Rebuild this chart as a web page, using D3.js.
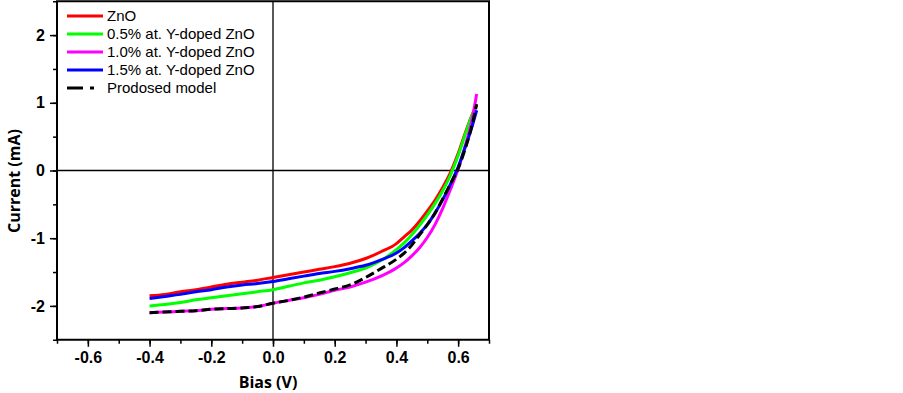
<!DOCTYPE html>
<html>
<head>
<meta charset="utf-8">
<script src="https://cdn.jsdelivr.net/npm/d3@7"></script>
<style>
  body { margin: 0; background: #fff; }
  .tick text { font-family: 'Liberation Sans', Arial, sans-serif; font-weight: bold; font-size: 16px; fill: #000; }
  .axisTitle { font-family: 'Open Sans', sans-serif; font-weight: bold; font-size: 16px; }
  .legend text { font-family: 'Liberation Sans', Arial, sans-serif; font-size: 15px; }
</style>
</head>
<body>
<div id="chart"></div>
<script>
// bias voltage (V)
var bias = [-0.4, -0.35, -0.3, -0.25, -0.2, -0.15, -0.1, -0.05, 0, 0.05, 0.1, 0.15, 0.2, 0.25, 0.3, 0.35, 0.4, 0.425, 0.45, 0.475, 0.5, 0.525, 0.55, 0.575, 0.6, 0.625, 0.645, 0.66];

// current (mA) per sample
var znO = [-1.85, -1.83, -1.79, -1.76, -1.72, -1.68, -1.65, -1.62, -1.58, -1.54, -1.50, -1.46, -1.42, -1.37, -1.30, -1.20, -1.08, -0.98, -0.88, -0.75, -0.60, -0.44, -0.25, -0.03, 0.25, 0.58, 0.82, 0.97];
var y05 = [-2.00, -1.98, -1.95, -1.91, -1.88, -1.85, -1.82, -1.79, -1.76, -1.71, -1.66, -1.62, -1.57, -1.51, -1.44, -1.33, -1.17, -1.07, -0.95, -0.81, -0.66, -0.49, -0.30, -0.07, 0.22, 0.56, 0.82, 0.97];
var y10 = [-2.10, -2.09, -2.08, -2.07, -2.05, -2.04, -2.03, -2.01, -1.96, -1.92, -1.88, -1.83, -1.77, -1.72, -1.65, -1.56, -1.44, -1.36, -1.26, -1.14, -0.99, -0.80, -0.56, -0.28, 0.02, 0.40, 0.75, 1.13];
var y15 = [-1.89, -1.86, -1.83, -1.79, -1.76, -1.72, -1.69, -1.67, -1.64, -1.60, -1.56, -1.52, -1.49, -1.45, -1.40, -1.32, -1.22, -1.14, -1.04, -0.93, -0.80, -0.63, -0.43, -0.20, 0.05, 0.37, 0.65, 0.89];
var model = [-2.10, -2.09, -2.08, -2.07, -2.05, -2.04, -2.03, -2.01, -1.96, -1.92, -1.87, -1.81, -1.75, -1.69, -1.58, -1.45, -1.31, -1.22, -1.10, -0.95, -0.80, -0.63, -0.42, -0.20, 0.03, 0.35, 0.67, 0.98];

var seriesNames = ['ZnO', '0.5% at. Y-doped ZnO', '1.0% at. Y-doped ZnO', '1.5% at. Y-doped ZnO', 'Prodosed model'];
var seriesColors = ['#ff0000', '#00ff00', '#ff00ff', '#0000ff', '#000000'];

var xTicks = [-0.6, -0.4, -0.2, 0.0, 0.2, 0.4, 0.6];
var yTicks = [-2, -1, 0, 1, 2];

var width = 903, height = 393;
var margin = {left: 57, right: 414, top: 1.25, bottom: 53.25};

var svg = d3.select('#chart').append('svg')
    .attr('width', width)
    .attr('height', height);

var x = d3.scaleLinear().domain([-0.7, 0.7]).range([margin.left, width - margin.right]);
var y = d3.scaleLinear().domain([-2.5, 2.5]).range([height - margin.bottom, margin.top]);

// plain hyphen for negatives, like the original
var fmtX = d => d3.format('.1f')(d).replace('\u2212', '-');
var fmtY = d => d3.format('d')(d).replace('\u2212', '-');

// minor ticks
svg.append('g')
    .attr('transform', `translate(0, ${y(-2.5)})`)
    .call(d3.axisBottom(x).tickValues(d3.range(-7, 8).map(d => d / 10)).tickSize(4).tickFormat(''))
    .call(g => g.select('.domain').remove())
    .selectAll('line').attr('stroke-width', 1.5);

svg.append('g')
    .attr('transform', `translate(${x(-0.7)}, 0)`)
    .call(d3.axisLeft(y).tickValues(d3.range(-5, 6).map(d => d / 2)).tickSize(4).tickFormat(''))
    .call(g => g.select('.domain').remove())
    .selectAll('line').attr('stroke-width', 1.5);

// major ticks
svg.append('g')
    .attr('transform', `translate(0, ${y(-2.5)})`)
    .call(d3.axisBottom(x).tickValues(xTicks).tickSize(7).tickPadding(5).tickFormat(fmtX))
    .call(g => g.select('.domain').remove())
    .selectAll('line').attr('stroke-width', 1.5);

svg.append('g')
    .attr('transform', `translate(${x(-0.7)}, 0)`)
    .call(d3.axisLeft(y).tickValues(yTicks).tickSize(7).tickPadding(5).tickFormat(fmtY))
    .call(g => g.select('.domain').remove())
    .selectAll('line').attr('stroke-width', 1.5);

// zero lines
svg.append('line')
    .attr('x1', x(-0.7)).attr('x2', x(0.7))
    .attr('y1', y(0)).attr('y2', y(0))
    .attr('stroke', '#000').attr('stroke-width', 1.3);

svg.append('line')
    .attr('x1', x(0)).attr('x2', x(0))
    .attr('y1', y(2.5)).attr('y2', y(-2.5))
    .attr('stroke', '#000').attr('stroke-width', 1.3);

// curves
var line = d3.line()
    .x((d, i) => x(bias[i]))
    .y(d => y(d))
    .curve(d3.curveMonotoneX);

var allSeries = [znO, y05, y10, y15, model];

svg.selectAll('path.curve')
    .data(allSeries)
    .enter()
    .append('path')
    .attr('class', 'curve')
    .attr('d', d => line(d))
    .attr('fill', 'none')
    .attr('stroke', (d, i) => seriesColors[i])
    .attr('stroke-width', 3)
    .attr('stroke-dasharray', (d, i) => i === 4 ? '9,4' : null);

// frame
svg.append('rect')
    .attr('x', x(-0.7)).attr('y', y(2.5))
    .attr('width', x(0.7) - x(-0.7))
    .attr('height', y(-2.5) - y(2.5))
    .attr('fill', 'none')
    .attr('stroke', '#000')
    .attr('stroke-width', 2);

// legend
var legend = svg.append('g').attr('class', 'legend');

legend.selectAll('line')
    .data(seriesNames)
    .enter()
    .append('line')
    .attr('x1', 67).attr('x2', 103)
    .attr('y1', (d, i) => 16 + i * 18)
    .attr('y2', (d, i) => 16 + i * 18)
    .attr('stroke', (d, i) => seriesColors[i])
    .attr('stroke-width', 3)
    .attr('stroke-dasharray', (d, i) => i === 4 ? '16,7,4,20' : null);

legend.selectAll('text')
    .data(seriesNames)
    .enter()
    .append('text')
    .attr('x', 107)
    .attr('y', (d, i) => 16 + i * 18)
    .attr('dy', '0.36em')
    .text(d => d);

// axis titles
svg.append('text')
    .attr('class', 'axisTitle')
    .attr('x', 268)
    .attr('y', 388)
    .attr('text-anchor', 'middle')
    .text('Bias (V)');

svg.append('text')
    .attr('class', 'axisTitle')
    .attr('transform', 'translate(20, 181) rotate(-90)')
    .attr('text-anchor', 'middle')
    .text('Current (mA)');
</script>
</body>
</html>
